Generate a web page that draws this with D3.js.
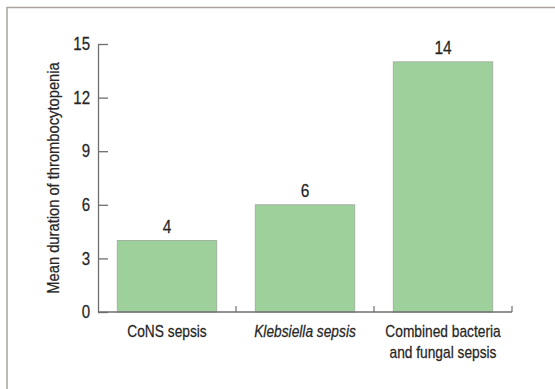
<!DOCTYPE html>
<html>
<head>
<meta charset="utf-8">
<script src="https://cdn.jsdelivr.net/npm/d3@7"></script>
<style>
  html, body { margin: 0; padding: 0; background: #fff; }
  svg { display: block; }
  text { font-family: "Liberation Sans", Arial, sans-serif; fill: #262626; stroke: #262626; stroke-width: 0.25px; }
</style>
</head>
<body>
<svg id="chart" width="555" height="389"></svg>
<script>
// Mean duration of thrombocytopenia by sepsis type
const categories = ["CoNS sepsis", "Klebsiella sepsis", "Combined bacteria and fungal sepsis"];
const categoryLines = [["CoNS sepsis"], ["Klebsiella sepsis"], ["Combined bacteria", "and fungal sepsis"]];
const italicCategory = [false, true, false];
const values = [4, 6, 14];
const yTicks = [0, 3, 6, 9, 12, 15];
const yTitle = "Mean duration of thrombocytopenia";

const svg = d3.select("#chart");
const W = 555, H = 389;
const margin = { top: 44, right: 43, bottom: 77, left: 98 };
const SX = 0.86; // horizontal squeeze giving a condensed typeface look

// outer frame (open to the right and bottom)
svg.append("path")
  .attr("d", `M7,${H + 2} V7.5 H${W + 2}`)
  .attr("fill", "none")
  .attr("stroke", "#a8a39b")
  .attr("stroke-width", 1.5);

const x = d3.scaleBand()
  .domain(categories)
  .range([margin.left, W - margin.right])
  .paddingInner(0.28)
  .paddingOuter(0.14);

const y = d3.scaleLinear()
  .domain([0, 15])
  .range([H - margin.bottom, margin.top]);

// condensed text helper: positioned group, squeezed text inside
function condText(parent, tx, ty, str, size, opts = {}) {
  const g = parent.append("g")
    .attr("transform", `translate(${tx},${ty})` + (opts.rotate ? ` rotate(${opts.rotate})` : ""));
  return g.append("text")
    .attr("transform", `scale(${opts.sx || SX},1)`)
    .attr("text-anchor", opts.anchor || "middle")
    .style("font-size", size + "px")
    .style("font-style", opts.italic ? "italic" : "normal")
    .text(str);
}

// bars
svg.append("g").selectAll("rect")
  .data(values)
  .join("rect")
  .attr("x", (d, i) => x(categories[i]))
  .attr("y", d => y(d))
  .attr("width", x.bandwidth())
  .attr("height", d => y(0) - y(d))
  .attr("fill", "#9dd09b")
  .attr("stroke", "#a2b2a1")
  .attr("stroke-width", 1);

// value labels
const valG = svg.append("g");
values.forEach((v, i) => {
  condText(valG, x(categories[i]) + x.bandwidth() / 2, y(v) - 7.5, v, 18);
});

// y axis
const yAxis = svg.append("g")
  .attr("transform", `translate(${margin.left},0)`)
  .call(d3.axisLeft(y).tickValues(yTicks).tickSizeInner(-10).tickSizeOuter(0).tickPadding(8));
yAxis.select(".domain").attr("stroke", "#6e6e6e").attr("stroke-width", 1.3);
yAxis.selectAll(".tick line").attr("stroke", "#6e6e6e").attr("stroke-width", 1.3);
yAxis.selectAll(".tick text")
  .style("font-size", "17.5px")
  .attr("fill", "#262626")
  .attr("x", -8 / SX)
  .attr("transform", `scale(${SX},1)`);

// x axis baseline with boundary ticks between categories
const x0 = margin.left, x1 = W - margin.right;
svg.append("line")
  .attr("x1", x0).attr("x2", x1)
  .attr("y1", y(0)).attr("y2", y(0))
  .attr("stroke", "#6e6e6e").attr("stroke-width", 1.3);
const boundaries = categories.map(c => x(c) + x.bandwidth() + (x.step() - x.bandwidth()) / 2);
svg.append("g").selectAll("line")
  .data(boundaries)
  .join("line")
  .attr("x1", d => d).attr("x2", d => d)
  .attr("y1", y(0)).attr("y2", y(0) - 6)
  .attr("stroke", "#6e6e6e").attr("stroke-width", 1.2);

// category labels
const catG = svg.append("g");
categoryLines.forEach((lines, i) => {
  lines.forEach((line, j) => {
    condText(catG, x(categories[i]) + x.bandwidth() / 2, y(0) + 24.5 + j * 21, line, 16,
      { italic: italicCategory[i] });
  });
});

// y axis title
condText(svg, 59, (y(0) + y(15)) / 2, yTitle, 16, { rotate: -90, sx: 0.92 });
</script>
</body>
</html>
